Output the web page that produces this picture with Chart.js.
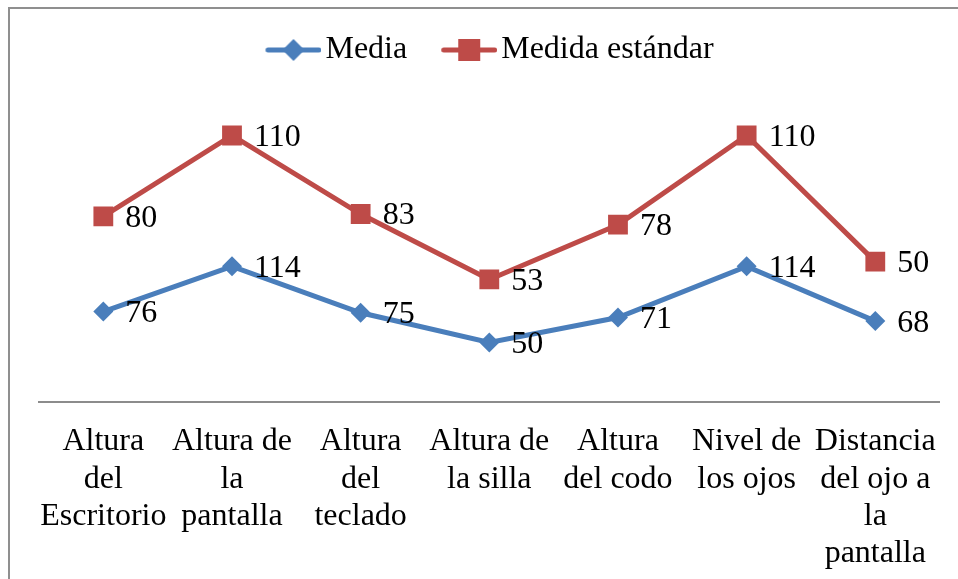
<!DOCTYPE html>
<html>
<head>
<meta charset="utf-8">
<script src="https://cdn.jsdelivr.net/npm/chart.js@4"></script>
<style>
  html, body { margin: 0; padding: 0; background: #fff; }
  #wrap { position: relative; width: 958px; height: 579px; overflow: hidden; }
  #frame { position: absolute; left: 8px; top: 7px; width: 990px; height: 600px;
           border-top: 2px solid #8f8f8f; border-left: 2px solid #8f8f8f; }
  canvas { position: absolute; left: 0; top: 0; }
</style>
</head>
<body>
<div id="wrap">
  <div id="frame"></div>
  <canvas id="chart" width="958" height="579"></canvas>
</div>
<script>
// Data (stacked line chart, labels show each series' own value)
const categories = [
  ['Altura', 'del', 'Escritorio'],
  ['Altura de', 'la', 'pantalla'],
  ['Altura', 'del', 'teclado'],
  ['Altura de', 'la silla'],
  ['Altura', 'del codo'],
  ['Nivel de', 'los ojos'],
  ['Distancia', 'del ojo a', 'la', 'pantalla']
];
const seriesNames = ['Media', 'Medida estándar'];
const media = [76, 114, 75, 50, 71, 114, 68];
const medidaEstandar = [80, 110, 83, 53, 78, 110, 50];

const BLUE = '#4A7EBB';
const RED = '#BE4B48';
const FONT = "'Liberation Serif', 'Times New Roman', serif";

Chart.defaults.font.family = FONT;
Chart.defaults.color = '#000';

// legend icon: line with marker in the middle (small transparent lead-in on the left)
function legendIcon(color, shape) {
  const c = document.createElement('canvas');
  c.width = 68;
  c.height = 26;
  const g = c.getContext('2d');
  g.strokeStyle = color;
  g.lineWidth = 5;
  g.lineCap = 'round';
  g.beginPath();
  g.moveTo(14.5, 13);
  g.lineTo(65.5, 13);
  g.stroke();
  g.fillStyle = color;
  const cx = 40, cy = 13;
  if (shape === 'diamond') {
    g.beginPath();
    g.moveTo(cx, cy - 11);
    g.lineTo(cx + 11, cy);
    g.lineTo(cx, cy + 11);
    g.lineTo(cx - 11, cy);
    g.closePath();
    g.fill();
  } else {
    g.fillRect(cx - 11, cy - 11, 22, 22);
  }
  return c;
}
const legendIcons = [legendIcon(BLUE, 'diamond'), legendIcon(RED, 'square')];

// value labels to the right of each point
const valueLabels = {
  id: 'valueLabels',
  afterDatasetsDraw(chart) {
    const ctx = chart.ctx;
    ctx.save();
    ctx.font = '32px ' + FONT;
    ctx.fillStyle = '#000';
    ctx.textAlign = 'left';
    ctx.textBaseline = 'middle';
    chart.data.datasets.forEach((ds, i) => {
      chart.getDatasetMeta(i).data.forEach((pt, j) => {
        ctx.fillText(String(ds.data[j]), pt.x + 22, pt.y + 2);
      });
    });
    ctx.restore();
  }
};

const chart = new Chart(document.getElementById('chart'), {
  type: 'line',
  data: {
    labels: categories,
    datasets: [
      {
        label: seriesNames[0],
        data: media,
        borderColor: BLUE,
        backgroundColor: BLUE,
        borderWidth: 5,
        pointStyle: 'rectRot',
        pointRadius: 10,
        pointBorderWidth: 0,
        pointBackgroundColor: BLUE,
        tension: 0,
        fill: false
      },
      {
        label: seriesNames[1],
        data: medidaEstandar,
        borderColor: RED,
        backgroundColor: RED,
        borderWidth: 5,
        pointStyle: 'rect',
        pointRadius: 14,
        pointBorderWidth: 0,
        pointBackgroundColor: RED,
        tension: 0,
        fill: false
      }
    ]
  },
  options: {
    responsive: false,
    animation: false,
    devicePixelRatio: 1,
    layout: { padding: { left: 39, right: 18, top: 0, bottom: 0 } },
    plugins: {
      tooltip: { enabled: false },
      legend: {
        position: 'top',
        labels: {
          font: { size: 32 },
          usePointStyle: true,
          pointStyleWidth: 44,
          padding: 34,
          generateLabels(chart) {
            const items = Chart.defaults.plugins.legend.labels.generateLabels(chart);
            items.forEach((it, i) => { it.pointStyle = legendIcons[i]; });
            return items;
          }
        }
      }
    },
    scales: {
      x: {
        offset: true,
        grid: { display: true, color: 'transparent', drawTicks: false },
        border: { display: true, color: '#8c8c8c', width: 2 },
        ticks: {
          font: { size: 32, lineHeight: 1.17 },
          color: '#000',
          padding: 21,
          maxRotation: 0,
          autoSkip: false
        },
        afterFit(scale) { scale.height = 177; }
      },
      y: {
        display: false,
        stacked: true,
        min: 0,
        max: 274
      }
    }
  },
  plugins: [valueLabels]
});
</script>
</body>
</html>
